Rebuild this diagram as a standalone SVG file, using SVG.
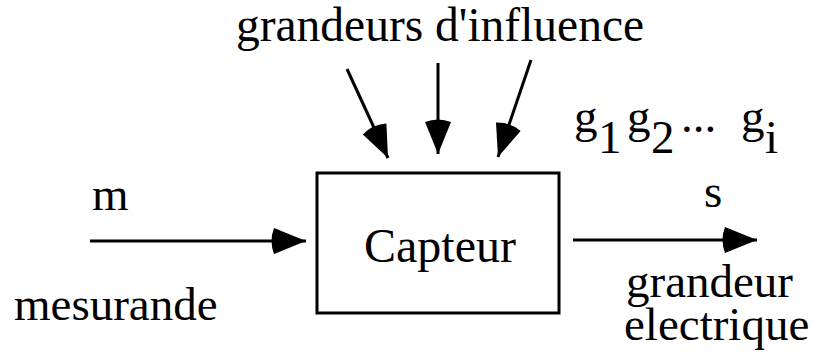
<svg xmlns="http://www.w3.org/2000/svg" width="813" height="360" viewBox="0 0 813 360">
  <style>
    .lbl { font-family: "Liberation Serif", "Times New Roman", serif; font-size: 47px; fill: #000; }
    .wire { stroke: #000; stroke-width: 3; fill: none; marker-end: url(#head); }
    .box { stroke: #000; stroke-width: 3; fill: #fff; }
  </style>
  <defs>
    <!-- solid arrowhead with a slightly rounded back -->
    <marker id="head" markerUnits="userSpaceOnUse" viewBox="-40 -16 42 32" markerWidth="42" markerHeight="32" refX="0" refY="0" orient="auto">
      <path d="M0,0 L-32,-13 Q-37,0 -32,13 Z" fill="#000"/>
    </marker>
  </defs>

  <rect width="813" height="360" fill="#fff"/>

  <g id="connectors">
    <line class="wire" x1="90" y1="241" x2="306" y2="241"/>
    <line class="wire" x1="573" y1="240" x2="757" y2="240"/>
    <line class="wire" x1="347" y1="69" x2="388" y2="158"/>
    <line class="wire" x1="438" y1="63" x2="438" y2="154"/>
    <line class="wire" x1="531" y1="60" x2="498" y2="157"/>
  </g>

  <g id="capteur">
    <rect class="box" x="317" y="173" width="242" height="140"/>
    <text class="lbl" x="440" y="262" text-anchor="middle" style="font-size:48px">Capteur</text>
  </g>

  <g id="influence">
    <text class="lbl" x="440" y="41" text-anchor="middle" style="font-size:47.5px">grandeurs d'influence</text>
    <text class="lbl" x="574" y="132">g</text>
    <text class="lbl" x="598" y="153">1</text>
    <text class="lbl" x="627" y="132">g</text>
    <text class="lbl" x="651" y="153">2</text>
    <text class="lbl" x="681" y="132">...</text>
    <text class="lbl" x="741" y="132">g</text>
    <text class="lbl" x="765" y="153">i</text>
  </g>

  <g id="entree">
    <text class="lbl" x="92" y="210">m</text>
    <text class="lbl" x="14" y="320">mesurande</text>
  </g>

  <g id="sortie">
    <text class="lbl" x="704" y="207">s</text>
    <text class="lbl" x="626" y="297">grandeur</text>
    <text class="lbl" x="624" y="340">electrique</text>
  </g>
</svg>
